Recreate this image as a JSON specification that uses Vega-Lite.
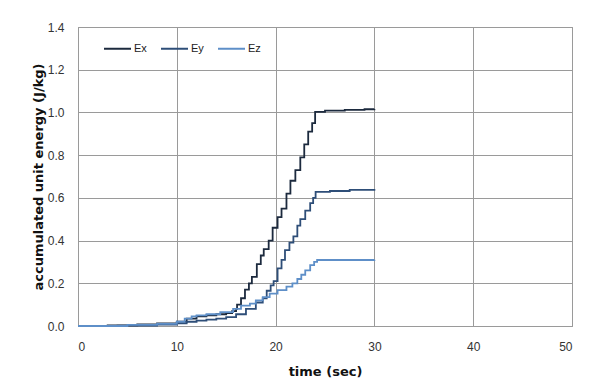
{
  "$schema": "https://vega.github.io/schema/vega-lite/v6.json",
  "autosize": {"type": "none"},
  "padding": {"left": 78, "top": 27, "right": 20, "bottom": 61},
  "width": 494,
  "height": 299,
  "background": "white",
  "config": {
    "font": "Liberation Sans",
    "view": {"stroke": "#8c8c8c", "strokeWidth": 1},
    "axis": {
      "grid": true,
      "gridColor": "#9a9a9a",
      "gridWidth": 1,
      "domain": false,
      "ticks": false,
      "labelColor": "#333333",
      "labelFontSize": 12,
      "titleColor": "#111111",
      "titleFontSize": 13,
      "titleFontWeight": "bold",
      "titleFont": "DejaVu Sans"
    }
  },
  "data": {
    "values": [
      {"t": 0, "e": 0, "c": "Ex"}, {"t": 3, "e": 0.003, "c": "Ex"}, {"t": 6, "e": 0.008, "c": "Ex"},
      {"t": 8, "e": 0.012, "c": "Ex"}, {"t": 10, "e": 0.02, "c": "Ex"}, {"t": 11, "e": 0.035, "c": "Ex"},
      {"t": 12, "e": 0.045, "c": "Ex"}, {"t": 13, "e": 0.05, "c": "Ex"}, {"t": 14, "e": 0.055, "c": "Ex"},
      {"t": 15, "e": 0.06, "c": "Ex"}, {"t": 15.6, "e": 0.07, "c": "Ex"}, {"t": 16.0, "e": 0.08, "c": "Ex"},
      {"t": 16.1, "e": 0.1, "c": "Ex"}, {"t": 16.5, "e": 0.13, "c": "Ex"}, {"t": 16.9, "e": 0.17, "c": "Ex"},
      {"t": 17.3, "e": 0.2, "c": "Ex"}, {"t": 17.6, "e": 0.23, "c": "Ex"}, {"t": 18.1, "e": 0.29, "c": "Ex"},
      {"t": 18.5, "e": 0.33, "c": "Ex"}, {"t": 18.8, "e": 0.36, "c": "Ex"}, {"t": 19.3, "e": 0.4, "c": "Ex"},
      {"t": 19.7, "e": 0.46, "c": "Ex"}, {"t": 20.2, "e": 0.51, "c": "Ex"}, {"t": 20.6, "e": 0.55, "c": "Ex"},
      {"t": 21.1, "e": 0.62, "c": "Ex"}, {"t": 21.5, "e": 0.68, "c": "Ex"}, {"t": 22.0, "e": 0.73, "c": "Ex"},
      {"t": 22.5, "e": 0.79, "c": "Ex"}, {"t": 22.9, "e": 0.85, "c": "Ex"}, {"t": 23.3, "e": 0.91, "c": "Ex"},
      {"t": 23.7, "e": 0.95, "c": "Ex"}, {"t": 24.0, "e": 1.003, "c": "Ex"}, {"t": 25, "e": 1.008, "c": "Ex"},
      {"t": 27, "e": 1.012, "c": "Ex"}, {"t": 29, "e": 1.015, "c": "Ex"}, {"t": 30, "e": 1.016, "c": "Ex"},

      {"t": 0, "e": 0, "c": "Ey"}, {"t": 4, "e": 0.002, "c": "Ey"}, {"t": 8, "e": 0.006, "c": "Ey"},
      {"t": 10, "e": 0.012, "c": "Ey"}, {"t": 11, "e": 0.02, "c": "Ey"}, {"t": 12, "e": 0.025, "c": "Ey"},
      {"t": 13, "e": 0.03, "c": "Ey"}, {"t": 14, "e": 0.035, "c": "Ey"}, {"t": 15, "e": 0.042, "c": "Ey"},
      {"t": 16, "e": 0.055, "c": "Ey"}, {"t": 17, "e": 0.08, "c": "Ey"}, {"t": 18, "e": 0.11, "c": "Ey"},
      {"t": 18.7, "e": 0.13, "c": "Ey"}, {"t": 19.1, "e": 0.165, "c": "Ey"}, {"t": 19.5, "e": 0.19, "c": "Ey"},
      {"t": 19.8, "e": 0.21, "c": "Ey"}, {"t": 20.2, "e": 0.27, "c": "Ey"}, {"t": 20.6, "e": 0.31, "c": "Ey"},
      {"t": 20.95, "e": 0.355, "c": "Ey"}, {"t": 21.4, "e": 0.39, "c": "Ey"}, {"t": 21.8, "e": 0.42, "c": "Ey"},
      {"t": 22.2, "e": 0.47, "c": "Ey"}, {"t": 22.5, "e": 0.5, "c": "Ey"}, {"t": 23.0, "e": 0.54, "c": "Ey"},
      {"t": 23.5, "e": 0.575, "c": "Ey"}, {"t": 23.8, "e": 0.6, "c": "Ey"}, {"t": 24.05, "e": 0.628, "c": "Ey"},
      {"t": 25.5, "e": 0.632, "c": "Ey"}, {"t": 27.5, "e": 0.637, "c": "Ey"}, {"t": 30, "e": 0.641, "c": "Ey"},

      {"t": 0, "e": 0, "c": "Ez"}, {"t": 5, "e": 0.005, "c": "Ez"}, {"t": 8, "e": 0.01, "c": "Ez"},
      {"t": 10, "e": 0.02, "c": "Ez"}, {"t": 10.8, "e": 0.035, "c": "Ez"}, {"t": 11.5, "e": 0.045, "c": "Ez"},
      {"t": 12, "e": 0.05, "c": "Ez"}, {"t": 13, "e": 0.055, "c": "Ez"}, {"t": 14.4, "e": 0.065, "c": "Ez"},
      {"t": 15.7, "e": 0.08, "c": "Ez"}, {"t": 16.5, "e": 0.095, "c": "Ez"}, {"t": 17.4, "e": 0.105, "c": "Ez"},
      {"t": 18, "e": 0.12, "c": "Ez"}, {"t": 18.7, "e": 0.135, "c": "Ez"}, {"t": 19.4, "e": 0.152, "c": "Ez"},
      {"t": 20.2, "e": 0.168, "c": "Ez"}, {"t": 21.1, "e": 0.184, "c": "Ez"}, {"t": 21.7, "e": 0.2, "c": "Ez"},
      {"t": 22.2, "e": 0.22, "c": "Ez"}, {"t": 22.6, "e": 0.24, "c": "Ez"}, {"t": 23.0, "e": 0.26, "c": "Ez"},
      {"t": 23.5, "e": 0.285, "c": "Ez"}, {"t": 23.9, "e": 0.3, "c": "Ez"}, {"t": 24.2, "e": 0.309, "c": "Ez"},
      {"t": 30, "e": 0.31, "c": "Ez"}
    ]
  },
  "mark": {"type": "line", "interpolate": "step-after", "strokeWidth": 1.8},
  "encoding": {
    "x": {
      "field": "t",
      "type": "quantitative",
      "title": "time (sec)",
      "scale": {"domain": [0, 50], "nice": false},
      "axis": {"values": [0, 10, 20, 30, 40, 50], "labelPadding": 15, "titlePadding": 13}
    },
    "y": {
      "field": "e",
      "type": "quantitative",
      "title": "accumulated unit energy (J/kg)",
      "scale": {"domain": [0, 1.4], "nice": false},
      "axis": {"values": [0, 0.2, 0.4, 0.6, 0.8, 1.0, 1.2, 1.4], "format": ".1f", "labelPadding": 14, "titlePadding": 2}
    },
    "color": {
      "field": "c",
      "type": "nominal",
      "scale": {"domain": ["Ex", "Ey", "Ez"], "range": ["#1c2a3e", "#2e4e78", "#5e8fc8"]},
      "legend": {
        "title": null,
        "orient": "none",
        "legendX": 25,
        "legendY": 7,
        "direction": "horizontal",
        "symbolType": "stroke",
        "symbolSize": 729,
        "symbolStrokeWidth": 2,
        "labelFontSize": 11,
        "labelColor": "#222222",
        "labelOffset": 2,
        "columnPadding": 10
      }
    }
  }
}
